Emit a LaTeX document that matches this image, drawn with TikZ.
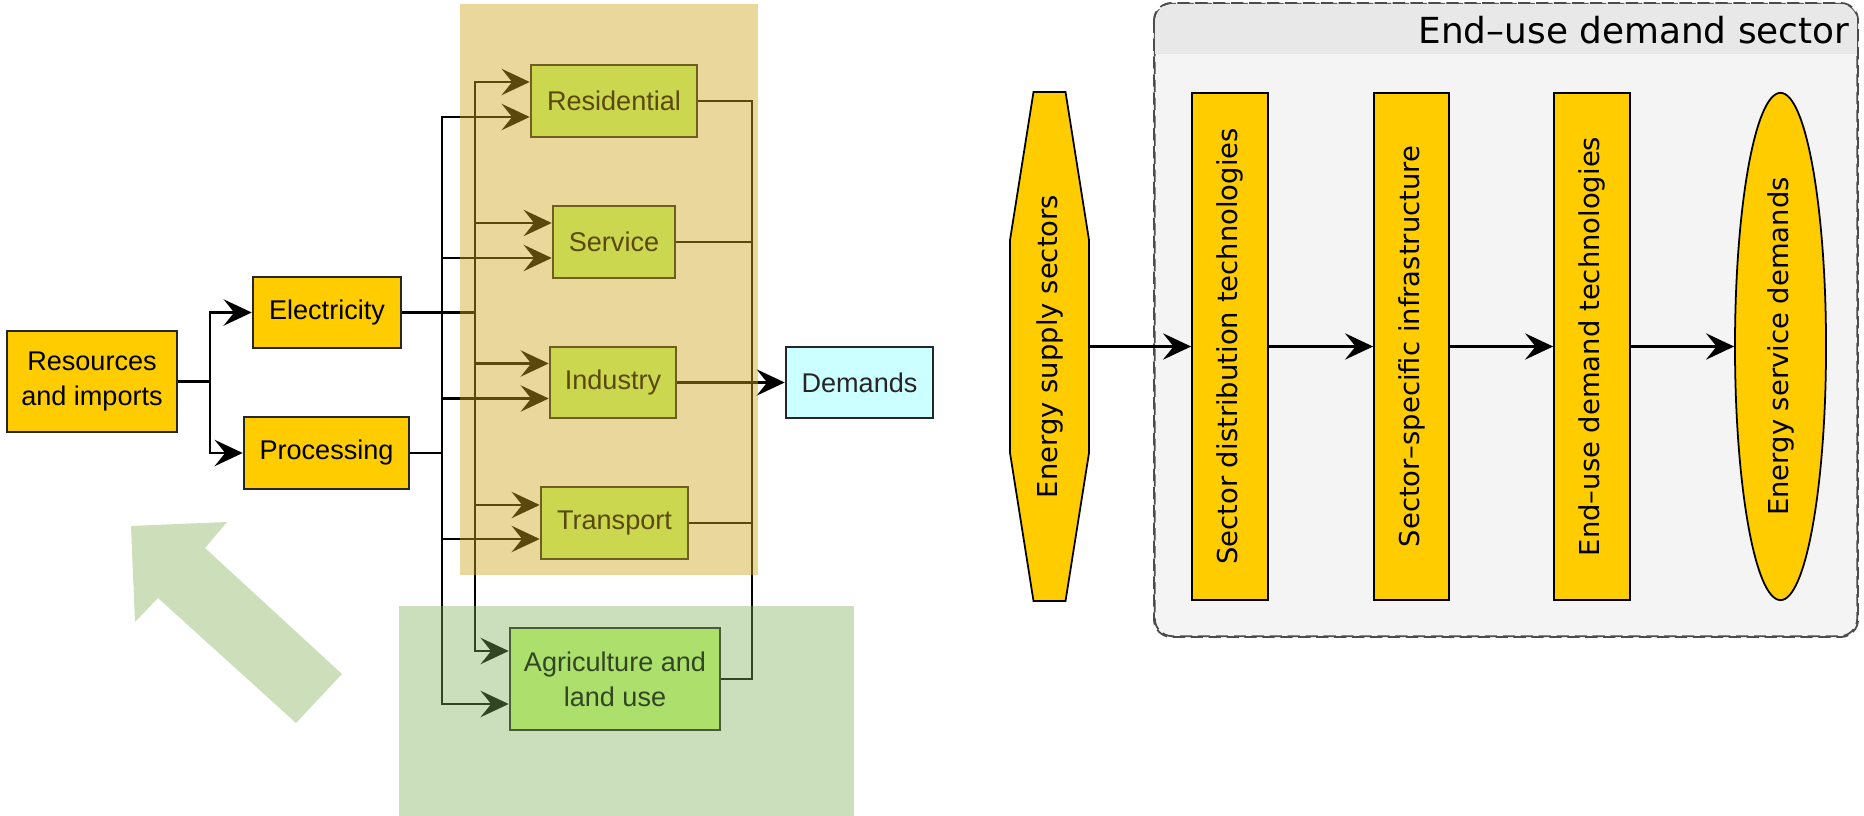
\documentclass[tikz,border=0pt]{standalone}
\usepackage{fontspec}
\setmainfont{Liberation Sans}
\newfontfamily\dejavu{DejaVu Sans}
\usepackage{tikz}
\definecolor{supplyyellow}{RGB}{255,204,0}
\definecolor{limebox}{RGB}{204,255,122}
\definecolor{tanveil}{RGB}{205,164,28}
\definecolor{greenveil}{RGB}{125,175,88}
\definecolor{greenarrow}{RGB}{204,223,186}
\definecolor{demandcyan}{RGB}{204,255,255}
\definecolor{panelgray}{RGB}{244,244,244}
\definecolor{headgray}{RGB}{232,232,232}
\usetikzlibrary{arrows.meta, calc, shapes.geometric, backgrounds}

\begin{document}
\begin{tikzpicture}[x=0.01cm, y=-0.01cm,
	supply/.style={rectangle, draw=black!85, fill=supplyyellow, line width=0.7pt, inner sep=0pt, align=center, font=\fontsize{7.7}{10}\selectfont},
	sector/.style={supply, fill=limebox},
	demand/.style={supply, fill=demandcyan, text=black!85},
	link/.style={line width=0.6pt},
	feed/.style={link, -{Stealth[length=8pt, width=7.5pt, inset=3pt]}},
	panel/.style={rectangle, draw=black!70, dashed, dash pattern=on 3.5pt off 1.6pt, fill=panelgray, rounded corners=5pt, line width=0.5pt},
	stage/.style={rectangle, draw, fill=supplyyellow, line width=0.5pt, inner sep=0pt, minimum width=0.76cm, minimum height=5.07cm, font=\dejavu\fontsize{7.8}{9}\selectfont},
	flow/.style={line width=0.6pt, -{Stealth[length=8pt, width=7.5pt, inset=3pt]}}]
	\useasboundingbox (0,0) rectangle (1864,816);

	\fill[greenarrow] (131,526) -- (227,522) -- (205,548) -- (342,674) -- (296,723) -- (158,598) -- (135,622) -- cycle;

	\node[supply, minimum width=1.70cm, minimum height=1.01cm] (Res) at (92,381.5) {Resources\\and imports};
	\node[supply, minimum width=1.48cm, minimum height=0.71cm] (El) at (327,312.5) {Electricity};
	\node[supply, minimum width=1.65cm, minimum height=0.72cm] (Pro) at (326.5,453) {Processing};
	\node[sector, minimum width=1.66cm, minimum height=0.72cm] (Resi) at (614,101) {Residential};
	\node[sector, minimum width=1.22cm, minimum height=0.72cm] (Ser) at (614,242) {Service};
	\node[sector, minimum width=1.26cm, minimum height=0.71cm] (Ind) at (613,382.5) {Industry};
	\node[sector, minimum width=1.47cm, minimum height=0.72cm] (Tra) at (614.5,523) {Transport};
	\node[sector, minimum width=2.10cm, minimum height=1.02cm] (Agr) at (615,679) {Agriculture and\\land use};
	\node[demand, minimum width=1.47cm, minimum height=0.71cm] (Dem) at (859.5,382.5) {Demands};

	\coordinate (rj) at (210,381.5);
	\coordinate (eb) at (475,312.5);
	\coordinate (pb) at (442,453);
	\coordinate (db) at (752,382.5);

	\draw[link] (Res) -- (rj);
	\draw[feed] (rj) |- (El);
	\draw[feed] (rj) |- (Pro);

	\draw[link] (El) -- (eb);
	\draw[feed] (eb) |- ($(Resi.west)+(0,-19)$);
	\draw[feed] (eb) |- ($(Ser.west)+(0,-19)$);
	\draw[feed] (eb) |- ($(Ind.west)+(0,-19)$);
	\draw[feed] (eb) |- ($(Tra.west)+(0,-18)$);
	\draw[feed] (eb) |- ($(Agr.west)+(0,-28)$);

	\draw[link] (Pro) -- (pb);
	\draw[feed] (pb) |- ($(Resi.west)+(0,16)$);
	\draw[feed] (pb) |- ($(Ser.west)+(0,16)$);
	\draw[feed] (pb) |- ($(Ind.west)+(0,16)$);
	\draw[feed] (pb) |- ($(Tra.west)+(0,16)$);
	\draw[feed] (pb) |- ($(Agr.west)+(0,25)$);

	\draw[link] (Resi.east) -| (db);
	\draw[link] (Ser.east) -| (db);
	\draw[link] (Tra.east) -| (db);
	\draw[link] (Agr.east) -| (db);
	\draw[feed] (Ind) -- (Dem);

	\fill[tanveil, fill opacity=0.44] (460,4) rectangle (758,575);
	\fill[greenveil, fill opacity=0.4] (399,606) rectangle (854,816);

	\node[panel, minimum width=7.02cm, minimum height=6.32cm] (eud) at (1506,320) {};
	\fill[headgray, rounded corners=5pt] ($(eud.north west)+(1,1)$) rectangle ($(eud.north east)+(-1,51)$);
	\fill[headgray] ($(eud.north west)+(1,20)$) rectangle ($(eud.north east)+(-1,51)$);
	\draw[black!70, dashed, dash pattern=on 3.5pt off 1.6pt, rounded corners=5pt, line width=0.5pt] (eud.north west) rectangle (eud.south east);
	\node[anchor=east, inner sep=0pt, font=\dejavu\fontsize{10.2}{12}\selectfont] (eudt) at ($(eud.north east)+(-8,27)$) {End–use demand sector};

	\node[stage, draw=none, fill=none, minimum width=0.77cm] (esup) at (1049.5,346.5) {\rotatebox{90}{Energy supply sectors}};
	\begin{scope}[on background layer]
		\filldraw[fill=supplyyellow, line width=0.5pt] ($(esup.north)+(-16,0)$) -- ($(esup.north)+(16,0)$) -- ($(esup.east)+(0,-107)$) -- ($(esup.east)+(0,107)$) -- ($(esup.south)+(16,0)$) -- ($(esup.south)+(-16,0)$) -- ($(esup.west)+(0,107)$) -- ($(esup.west)+(0,-107)$) -- cycle;
	\end{scope}
	\node[stage] (sdt) at (1230,346.5) {\rotatebox{90}{Sector distribution technologies}};
	\node[stage, minimum width=0.75cm] (ssi) at (1411.5,346.5) {\rotatebox{90}{Sector–specific infrastructure}};
	\node[stage] (edt) at (1592,346.5) {\rotatebox{90}{End–use demand technologies}};
	\node[stage, ellipse, minimum width=0.91cm] (esd) at (1780.5,346.5) {\rotatebox{90}{Energy service demands}};

	\draw[flow] (esup) -- (sdt);
	\draw[flow] (sdt) -- (ssi);
	\draw[flow] (ssi) -- (edt);
	\draw[flow] (edt) -- (esd);
\end{tikzpicture}
\end{document}
